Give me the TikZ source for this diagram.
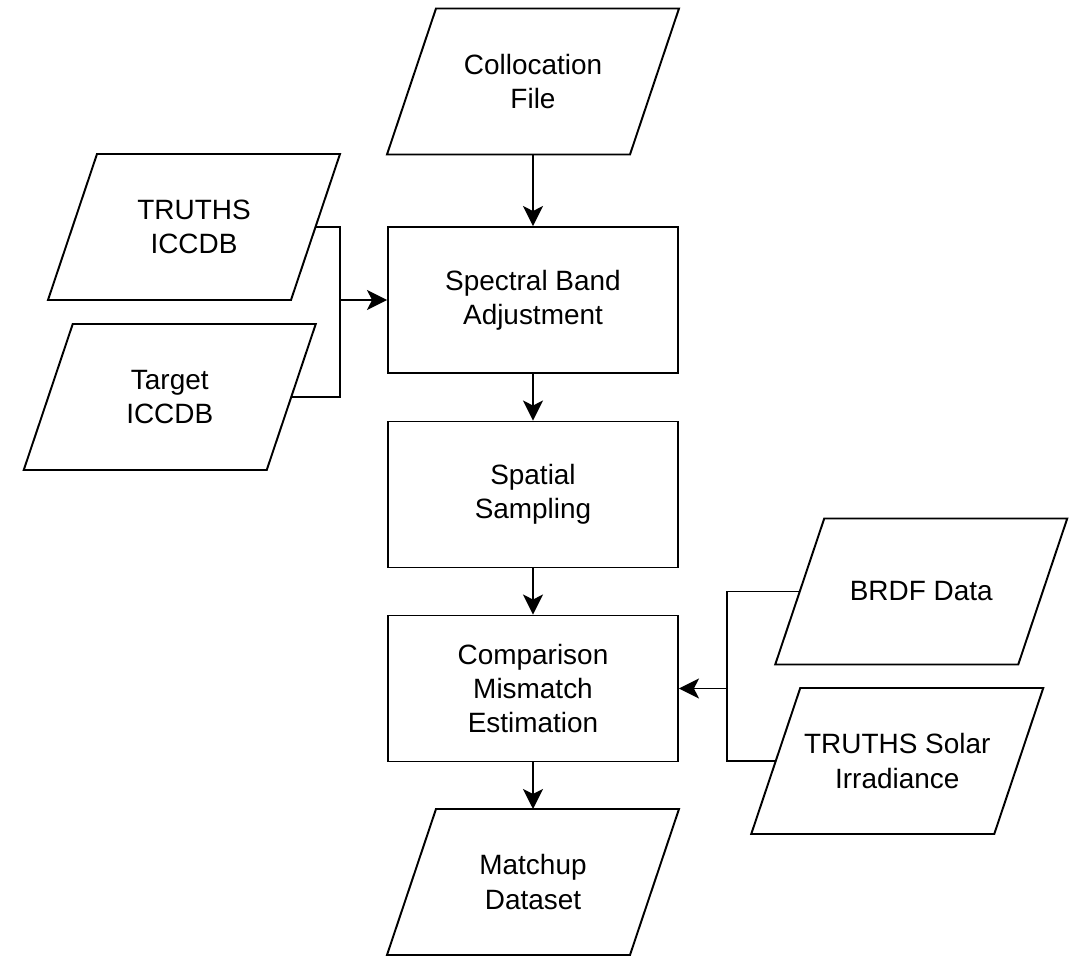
\documentclass[tikz,border=0pt]{standalone}
\usepackage{fontspec}
\setmainfont{Liberation Sans}
\usetikzlibrary{arrows.meta}
\begin{document}
\begin{tikzpicture}[line width=1.1pt]
\tikzstyle{proc}=[draw,rectangle,minimum width=5.8cm,minimum height=2.92cm,align=center,font=\fontsize{15.9}{19.5}\selectfont]
\tikzstyle{io}=[rectangle,minimum width=4.86cm,minimum height=2.92cm,inner sep=0pt,outer sep=0pt,align=center,font=\fontsize{15.9}{19.5}\selectfont]
\tikzstyle{arr}=[-{Stealth[length=0.4cm,width=0.4cm,inset=0.1cm]}]
\useasboundingbox (0,0) rectangle (21.52,-19.12);
\node[io] (coll) at (10.66,-1.63) {Collocation\\File};
\node[io] (truthsdb) at (3.88,-4.54) {TRUTHS\\ICCDB};
\node[io] (targetdb) at (3.395,-7.94) {Target\\ICCDB};
\node[proc] (sba) at (10.66,-6.0) {Spectral Band\\Adjustment};
\node[proc] (ss) at (10.66,-9.89) {Spatial\\Sampling};
\node[proc] (cme) at (10.66,-13.77) {Comparison\\Mismatch\\Estimation};
\node[io] (matchup) at (10.66,-17.64) {Matchup\\Dataset};
\node[io] (brdf) at (18.425,-11.83) {BRDF Data};
\node[io] (solar) at (17.945,-15.22) {TRUTHS Solar\\Irradiance};
% slanted outlines of the data nodes
\foreach \n in {coll,truthsdb,targetdb,matchup,brdf,solar}
  \draw ([xshift=-4.9mm]\n.south west) -- ([xshift=4.9mm]\n.north west) -- ([xshift=4.9mm]\n.north east) -- ([xshift=-4.9mm]\n.south east) -- cycle;
\coordinate (joinl) at (6.8,-6.0);
\coordinate (joinr) at (14.54,-13.77);
\draw[arr] (coll) -- (sba);
\draw[arr] (sba) -- (ss);
\draw[arr] (ss) -- (cme);
\draw[arr] (cme) -- (matchup);
\draw (truthsdb.east) -| (joinl) |- (targetdb.east);
\draw[arr] (joinl) -- (sba.west);
\draw (brdf.west) -| (joinr) |- (solar.west);
\draw[arr] (joinr) -- (cme.east);
\end{tikzpicture}
\end{document}
